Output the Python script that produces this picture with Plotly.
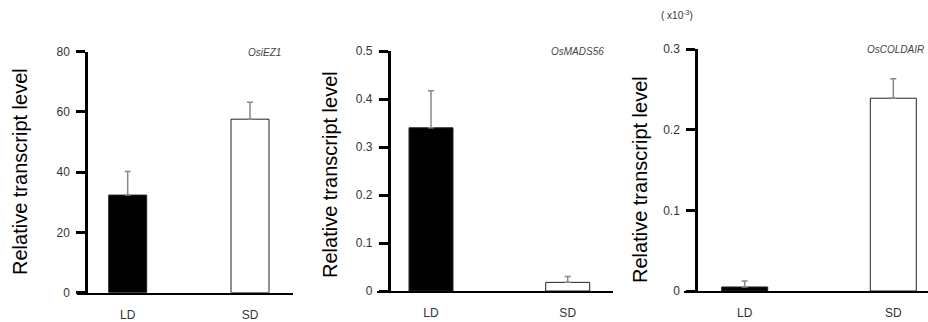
import plotly.graph_objects as go

categories = ["LD", "SD"]
genes = ["OsiEZ1", "OsMADS56", "OsCOLDAIR"]
ez1_values = [32.4, 57.6]
ez1_errors = [7.8, 5.6]
mads56_values = [0.34, 0.018]
mads56_errors = [0.077, 0.012]
coldair_values = [0.005, 0.239]
coldair_errors = [0.0075, 0.024]
y_ranges = [[0, 80], [0, 0.5], [0, 0.3]]
y_ticks = [[0, 20, 40, 60, 80], [0, 0.1, 0.2, 0.3, 0.4, 0.5], [0, 0.1, 0.2, 0.3]]
y_ticktext = [["0", "20", "40", "60", "80"], ["0", "0.1", "0.2", "0.3", "0.4", "0.5"], ["0", "0.1", "0.2", "0.3"]]

W, H = 928, 322
values = [ez1_values, mads56_values, coldair_values]
errors = [ez1_errors, mads56_errors, coldair_errors]

# pixel layout per panel
panels = [
    dict(xl=77, xr=293, yaxis_x=86, ytop=51.7, ybot=292.7, c0=127.7, c1=250.0, bw=38, lx=20, ly=172, tx=283),
    dict(xl=376.7, xr=613, yaxis_x=388.7, ytop=51, ybot=291, c0=431, c1=567.7, bw=44, lx=330, ly=175, tx=606),
    dict(xl=684, xr=928, yaxis_x=696, ytop=49, ybot=291, c0=744.7, c1=893.3, bw=46, lx=640, ly=180, tx=926),
]

fig = go.Figure()
font_family = "Liberation Sans, Arial, sans-serif"
xpos = [0, 1]
for i, p in enumerate(panels):
    k = "" if i == 0 else str(i + 1)
    scale = p["c1"] - p["c0"]
    xr0 = -(p["c0"] - p["xl"]) / scale
    xr1 = 1 + (p["xr"] - p["c1"]) / scale
    fig.add_trace(go.Bar(
        x=xpos, y=values[i],
        width=p["bw"] / scale,
        marker=dict(color=["black", "white"], line=dict(color="#222", width=1)),
        error_y=dict(type="data", symmetric=False, array=errors[i],
                     arrayminus=[0, 0], color="#888", thickness=1.5, width=3),
        xaxis="x" + k, yaxis="y" + k, showlegend=False, hoverinfo="skip",
    ))
    ydom = [(H - p["ybot"]) / H, (H - p["ytop"]) / H]
    fig.layout["xaxis" + k] = dict(
        domain=[p["xl"] / W, min(p["xr"] / W, 1)], range=[xr0, xr1],
        anchor="y" + k, tickvals=xpos, ticktext=categories,
        showline=True, linecolor="black", linewidth=2, ticks="",
        showgrid=False, zeroline=False, ticklabelstandoff=10, automargin=False,
        tickfont=dict(family=font_family, size=12, color="#333"),
    )
    fig.layout["yaxis" + k] = dict(
        domain=ydom, range=y_ranges[i], anchor="free", position=p["yaxis_x"] / W,
        tickvals=y_ticks[i], ticktext=y_ticktext[i],
        showline=True, linecolor="black", linewidth=2.5, ticks="outside",
        ticklen=9, tickwidth=2.5, tickcolor="black", automargin=False,
        showgrid=False, zeroline=False, ticklabelstandoff=4,
        tickfont=dict(family=font_family, size=12, color="#333"),
    )
    fig.add_annotation(
        text="Relative transcript level", textangle=-90,
        x=p["lx"] / W, y=(H - p["ly"]) / H, xanchor="center", yanchor="middle",
        xref="paper", yref="paper", showarrow=False,
        font=dict(family=font_family, size=20, color="black"),
    )
    fig.add_annotation(
        text="<i>" + genes[i] + "</i>", x=p["tx"] / W,
        y=(H - p["ytop"] - 1) / H, xref="paper", yref="paper",
        xanchor="right", yanchor="middle", showarrow=False,
        font=dict(family=font_family, size=10, color="#444"),
    )

fig.add_annotation(
    text="( x10<sup>-3</sup>)", x=677 / W, y=(H - 15) / H, xref="paper", yref="paper",
    xanchor="center", yanchor="middle", showarrow=False,
    font=dict(family=font_family, size=10, color="#333"),
)

fig.update_layout(
    width=W, height=H, margin=dict(l=0, r=0, t=0, b=0),
    paper_bgcolor="white", plot_bgcolor="white", barmode="overlay",
)
fig.write_html("out.html", config={"displayModeBar": False},
               post_script="document.body.style.margin='0px';document.body.style.overflow='hidden';")
